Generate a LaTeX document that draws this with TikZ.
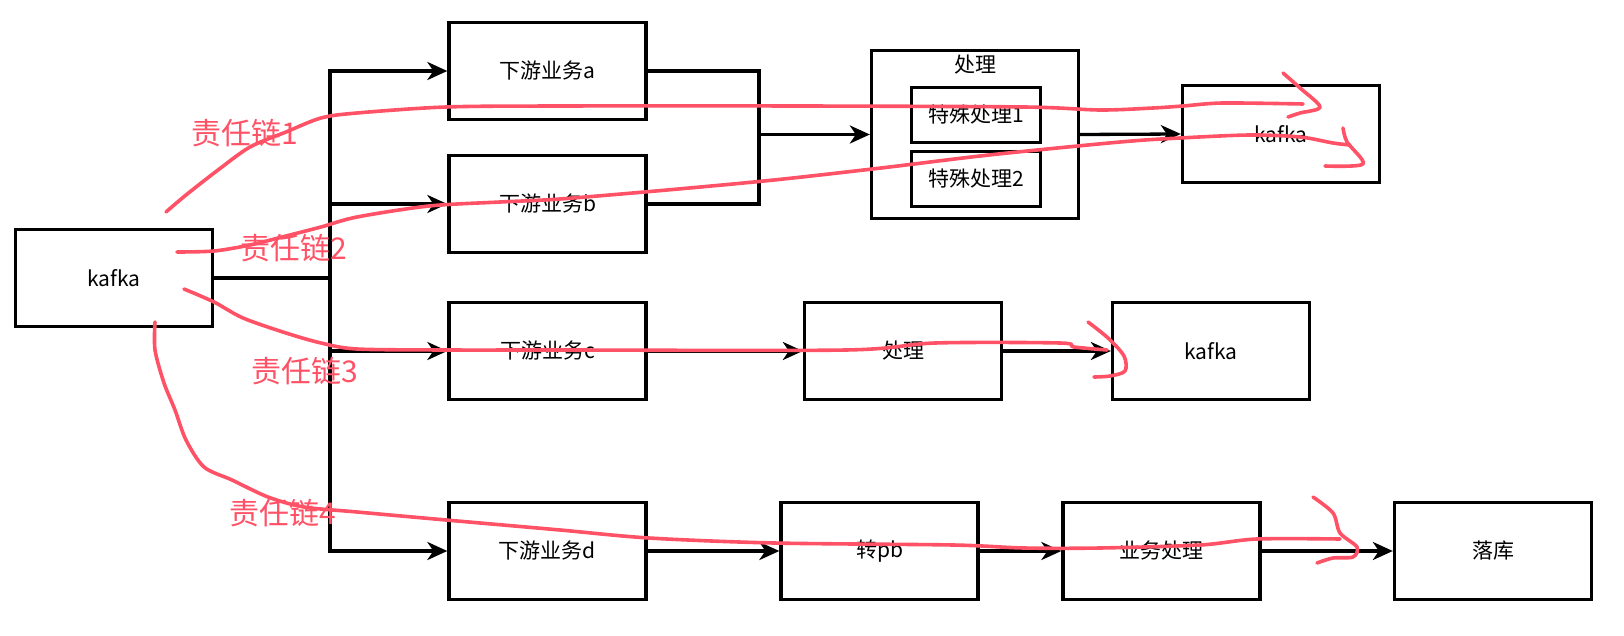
\documentclass[tikz,border=0pt]{standalone}
\usepackage{fontspec}
\setmainfont{Noto Sans CJK SC}
\usetikzlibrary{arrows.meta}
\definecolor{pen}{RGB}{255,82,102}
\tikzset{
 box/.style={draw, line width=3.3pt, minimum width=197pt, minimum height=97pt, inner sep=0pt, font=\fontsize{21}{25}\selectfont},
 smallbox/.style={draw, line width=3.3pt, minimum width=129pt, minimum height=55pt, inner sep=0pt, font=\fontsize{21}{25}\selectfont},
 conn/.style={line width=3.3pt, -{Stealth[length=20pt,width=18pt,inset=6pt]}},
 plain/.style={line width=3.3pt},
 redpen/.style={draw=pen, line width=3.6pt, line cap=round, line join=round},
 redlabel/.style={text=pen, inner sep=0pt, font=\fontsize{30}{34}\selectfont}
}
\begin{document}
\begin{tikzpicture}[x=1pt,y=-1pt]
\useasboundingbox (0,0) rectangle (1624,636);
% boxes
\node[box] (src) at (114,278) {kafka};
\node[box] (a) at (547.5,71) {下游业务a};
\node[box] (b) at (547.5,204) {下游业务b};
\node[box] (c) at (547.5,351) {下游业务c};
\node[box] (d) at (547.5,551) {下游业务d};
\node[draw, line width=3.3pt, minimum width=207pt, minimum height=168pt, inner sep=0pt] (proc) at (975,134.5) {};
\node[font=\fontsize{21}{25}\selectfont, inner sep=0pt] (proctitle) at (975,65) {处理};
\node[smallbox] (sp1) at (976,115) {特殊处理1};
\node[smallbox] (sp2) at (976,179) {特殊处理2};
\node[box] (k1) at (1281,134) {kafka};
\node[box] (pc) at (903,351) {处理};
\node[box] (kc) at (1211,351) {kafka};
\node[box] (pb) at (879.5,551) {转pb};
\node[box] (biz) at (1161.5,551) {业务处理};
\node[box] (db) at (1493,551) {落库};
% connectors
\coordinate (bus) at (330,278);
\draw[plain] (src.east) -- (bus);
\draw[conn] (bus) |- (a.west);
\draw[conn] (bus) |- (b.west);
\draw[conn] (bus) |- (c.west);
\draw[conn] (bus) |- (d.west);
\coordinate (merge) at (759,134.5);
\draw[plain] (a.east) -| (merge);
\draw[plain] (b.east) -| (merge);
\draw[conn] (merge) -- (proc.west);
\draw[conn] (proc.east) -- (k1.west);
\draw[conn] (c.east) -- (pc.west);
\draw[conn] (pc.east) -- (kc.west);
\draw[conn] (d.east) -- (pb.west);
\draw[conn] (pb.east) -- (biz.west);
\draw[conn] (biz.east) -- (db.west);
% red labels
\node[redlabel] (l1) at (245,133) {责任链1};
\node[redlabel] (l2) at (294,248) {责任链2};
\node[redlabel] (l3) at (305,371) {责任链3};
\node[redlabel] (l4) at (283,513) {责任链4};
% red freehand chains
\draw[redpen] plot[smooth, tension=0.5] coordinates {(166,212) (186,195) (218,170) (250,147) (286,132) (321,118) (357,113) (446,107) (560,106) (800,106) (1024,107) (1100,110) (1153,108) (1183,106) (1223,103) (1303,104)};
\draw[redpen] plot[smooth, tension=0.5] coordinates {(1283,73) (1300,88) (1320,107) (1300,113) (1288,117)};
\draw[redpen] plot[smooth, tension=0.5] coordinates {(177,252) (214,251) (250,245) (286,236) (321,227) (357,217) (429,206) (500,202) (560,199) (667,190) (774,180) (881,168) (989,155) (1120,142) (1180,138) (1250,135) (1300,137) (1333,143) (1350,145)};
\draw[redpen] plot[smooth, tension=0.5] coordinates {(1343,128) (1347,142) (1363,164) (1325,166)};
\draw[redpen] plot[smooth, tension=0.5] coordinates {(184,289) (214,302) (243,318) (286,333) (321,343) (357,349) (446,350) (560,350) (846,350) (935,343) (1060,343) (1074,347) (1107,350)};
\draw[redpen] plot[smooth, tension=0.5] coordinates {(1088,322) (1108,338) (1124,356) (1125,371) (1110,376) (1094,377)};
\draw[redpen] plot[smooth, tension=0.5] coordinates {(155,322) (155,350) (164,383) (175,410) (186,440) (204,467) (232,480) (268,497) (304,507) (357,512) (446,520) (560,530) (649,538) (774,543) (953,545) (1024,548) (1100,548) (1200,545) (1257,539) (1340,539)};
\draw[redpen] plot[smooth, tension=0.5] coordinates {(1313,497) (1333,513) (1340,533) (1357,547) (1353,557) (1333,558) (1317,563)};
\end{tikzpicture}
\end{document}
